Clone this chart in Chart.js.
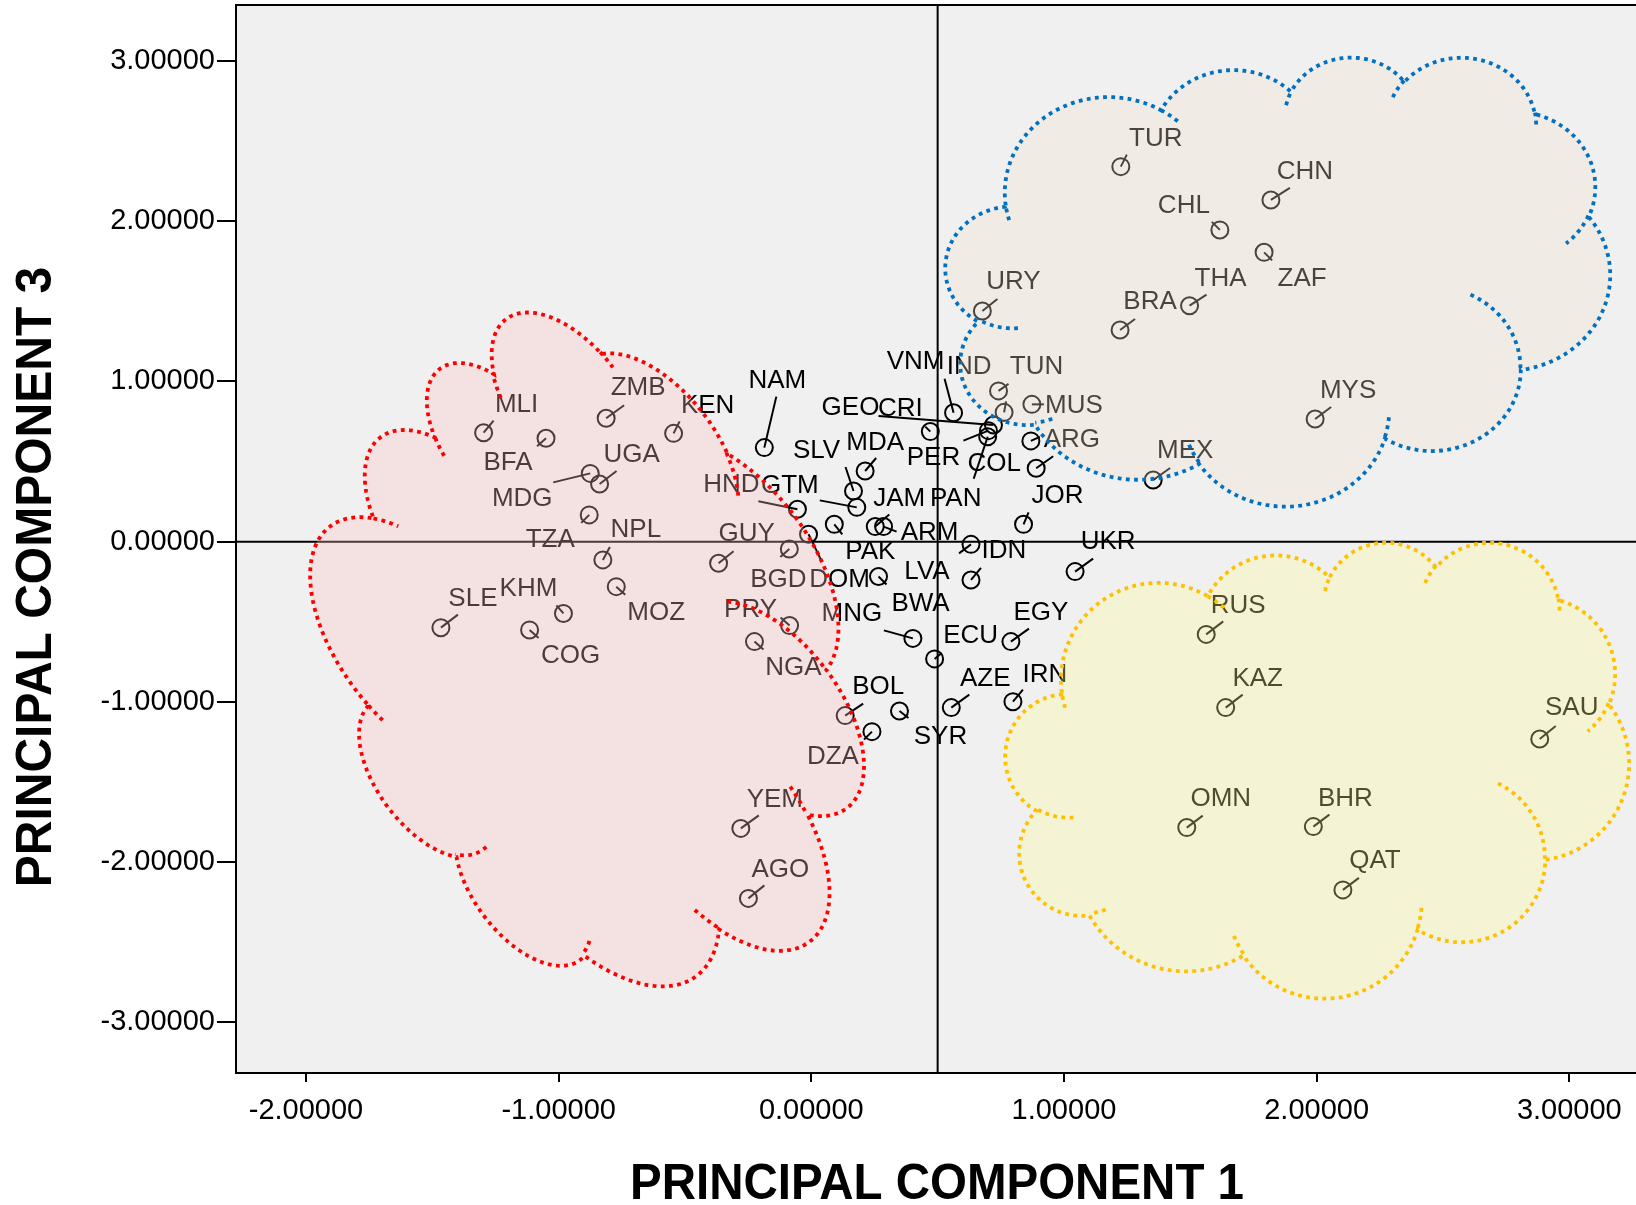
<!DOCTYPE html>
<html>
<head>
<meta charset="utf-8">
<title>Principal components 1 and 3</title>
<script src="https://cdn.jsdelivr.net/npm/chart.js@4/dist/chart.umd.min.js"></script>
<style>
  html, body { margin: 0; padding: 0; background: #ffffff; overflow: hidden; }
  #wrap { width: 1636px; height: 1205px; }
</style>
</head>
<body>
<div id="wrap"><canvas id="pca" width="1636" height="1205"></canvas></div>
<script>
// ---- data: country scores on principal components 1 and 3 ----
const countries = [
  'MLI','BFA','ZMB','KEN','MDG','UGA','TZA','NPL','GUY','MOZ','KHM','SLE','COG','PRY','NGA','BOL','DZA','YEM','AGO',
  'NAM','HND','GTM','SLV','MDA','PAK','JAM','ARM','DOM','BGD','BWA','LVA','IDN','UKR','MNG','ECU','EGY','SYR','AZE','IRN',
  'TUN','IND','VNM','MUS','CRI','GEO','PER','PAN','ARG','COL','JOR',
  'TUR','CHN','CHL','ZAF','THA','BRA','URY','MYS','MEX',
  'RUS','KAZ','SAU','OMN','BHR','QAT'
];
const pc1 = [
  -1.297,-1.050,-0.812,-0.545,-0.875,-0.838,-0.879,-0.825,-0.367,-0.772,-0.981,-1.466,-1.115,-0.086,-0.225,0.134,0.240,-0.279,-0.249,
  -0.186,-0.055,0.180,0.167,0.213,0.091,0.253,0.286,-0.011,-0.087,0.266,0.632,0.632,1.044,0.402,0.488,0.790,0.349,0.554,0.798,
  0.741,0.763,0.563,0.873,0.471,0.721,0.701,0.698,0.869,0.890,0.840,
  1.225,1.819,1.617,1.792,1.497,1.222,0.677,1.994,1.353,
  1.563,1.640,2.883,1.486,1.987,2.104
];
const pc3 = [
  0.680,0.645,0.770,0.676,0.426,0.360,0.167,-0.114,-0.135,-0.281,-0.448,-0.537,-0.551,-0.524,-0.624,-1.086,-1.186,-1.790,-2.227,
  0.587,0.202,0.214,0.316,0.441,0.108,0.094,0.094,0.046,-0.046,-0.218,-0.017,-0.239,-0.187,-0.604,-0.732,-0.624,-1.057,-1.036,-0.999,
  0.941,0.807,0.805,0.857,0.687,0.728,0.693,0.655,0.629,0.458,0.108,
  2.341,2.133,1.946,1.806,1.473,1.321,1.440,0.766,0.385,
  -0.579,-1.036,-1.232,-1.785,-1.779,-2.174
];
const xTickValues = [-2, -1, 0, 1, 2, 3];
const yTickValues = [-3, -2, -1, 0, 1, 2, 3];
const xTitle = 'PRINCIPAL COMPONENT 1';
const yTitle = 'PRINCIPAL COMPONENT 3';

// ---- layout: axis window, reference lines, label placement ----
const X_RANGE = [-2.277, 3.264];
const Y_RANGE = [-3.317, 3.350];
const REF_X = 0.5, REF_Y = 0;
const FONT = '"Liberation Sans", Arial, sans-serif';
const PLOT_BG = '#f0f0f0';

// label centre offset (dx, dy) and leader end (lx, ly), pixels from the marker
const labelLayout = {
  MLI:[33,-28,10,-12], BFA:[-38,25,-9,8], ZMB:[32,-30,18,-13], KEN:[34,-28,6,-12], MDG:[-68,25,-37,9],
  UGA:[32,-29,17,-13], TZA:[-39,25,-8,8], NPL:[33,-30,7,-13], GUY:[28,-29,15,-12], MOZ:[40,26,9,8],
  KHM:[-35,-25,-7,-8], SLE:[32,-29,17,-13], COG:[41,26,9,8], PRY:[-39,-16,-9,-8], NGA:[39,26,9,8],
  BOL:[33,-29,18,-12], DZA:[-39,25,-8,8], YEM:[34,-29,18,-13], AGO:[32,-29,16,-13],
  NAM:[13,-67,12,-51], HND:[-66,-24,-39,-8], GTM:[-67,-22,-37,-7], SLV:[-37,-40,-8,-24], MDA:[10,-28,11,-13],
  PAK:[36,27,8,10], JAM:[24,-28,14,-12], ARM:[46,6,13,5], DOM:[31,46,13,27], BGD:[-11,31,-9,8],
  BWA:[42,27,8,8], LVA:[-44,27,-12,9], IDN:[33,-29,10,-12], UKR:[33,-30,18,-13], MNG:[-61,-25,-29,-8],
  ECU:[36,-23,7,-6], EGY:[30,-29,18,-13], SYR:[41,26,9,7], AZE:[34,-29,18,-13], IRN:[32,-27,10,-12],
  TUN:[38,-24,10,-7], IND:[-35,-46,2,-11], VNM:[-38,-51,-9,-34], MUS:[42,1,12,0], CRI:[-30,-23,-5,-5],
  GEO:[-143,-17,-115,-9], PER:[-55,27,-25,10], PAN:[-32,62,-14,42], ARG:[41,-1,9,-4], COL:[-42,-4,17,-12],
  JOR:[34,-29,5,-12],
  TUR:[35,-28,6,-12], CHN:[34,-28,19,-12], CHL:[-36,-24,-8,-8], ZAF:[38,26,8,8], THA:[31,-27,17,-11],
  BRA:[30,-28,15,-11], URY:[31,-29,15,-12], MYS:[33,-28,16,-12], MEX:[32,-29,17,-12],
  RUS:[32,-29,17,-13], KAZ:[32,-29,17,-13], SAU:[32,-31,16,-13], OMN:[34,-29,16,-12], BHR:[32,-28,16,-12],
  QAT:[32,-29,16,-12]
};

// cluster outlines: cloud callouts anchored at a data-space centre (size in px, rotation in degrees)
const clusterClouds = [
  { center: [-0.835, -0.824], size: [500, 680], rotate: -37, fill: 'rgba(255,195,195,0.30)', stroke: '#ff0000' },
  { center: [ 1.846,  1.620], size: [665, 449], rotate: 0,   fill: 'rgba(245,225,210,0.30)', stroke: '#0070c0' },
  { center: [ 2.002, -1.430], size: [624, 456], rotate: 0,   fill: 'rgba(255,252,150,0.30)', stroke: '#ffc000' }
];

// ---- cloud glyph (43200 x 43200 design space): outer arcs and inner detail arcs ----
const CLOUD_START = [3900, 14370];
const CLOUD_ARCS = [
  [6753, 9190, -11429249, 7426832], [5333, 7267, -8646143, 5396714], [4365, 5945, -8748475, 5983381],
  [4857, 6595, -7859164, 7034504], [5333, 7273, -4722533, 6541615], [6775, 9220, -2776035, 7816140],
  [5785, 7867, 37501, 6842000], [6752, 9215, 1347096, 6910353], [7720, 10543, 3974558, 4542661],
  [4360, 5918, -16496525, 8804134], [4345, 5945, -14809710, 9151131]
];
const CLOUD_INNER = [
  [4693, 26177, 4345, 5945, 5204520, 1585770], [6928, 34899, 4360, 5918, 4416628, 686848],
  [16478, 39090, 6752, 9215, 8257449, 844866], [28827, 34751, 6752, 9215, 387196, 959901],
  [34129, 22954, 5785, 7867, -4217541, 4255042], [41798, 15354, 5333, 7273, 1819082, 1665090],
  [38324, 5426, 4857, 6595, -824660, 891534], [29078, 3952, 4857, 6595, -8950887, 1091722],
  [22141, 4720, 4365, 5945, -9809656, 1061181], [14000, 5192, 6753, 9190, -4002417, 739161],
  [4127, 15789, 6753, 9190, 9459261, 711490]
];

function sampleArc(x0, y0, wR, hR, st, sw, n) {
  const deg = Math.PI / 180 / 60000;
  const a1 = st * deg, a2 = (st + sw) * deg;
  const toParam = a => Math.atan2(wR * Math.sin(a), hR * Math.cos(a));
  const t1 = toParam(a1);
  let t2 = toParam(a2);
  if (sw > 0) { while (t2 < t1) t2 += 2 * Math.PI; }
  else { while (t2 > t1) t2 -= 2 * Math.PI; }
  const cx = x0 - wR * Math.cos(t1), cy = y0 - hR * Math.sin(t1);
  const pts = [];
  for (let i = 1; i <= n; i++) {
    const t = t1 + (t2 - t1) * i / n;
    pts.push([cx + wR * Math.cos(t), cy + hR * Math.sin(t)]);
  }
  return pts;
}

function buildCloud() {
  const outline = [CLOUD_START.slice()];
  let cur = CLOUD_START;
  for (const [wR, hR, st, sw] of CLOUD_ARCS) {
    const pts = sampleArc(cur[0], cur[1], wR, hR, st, sw, 60);
    outline.push(...pts);
    cur = pts[pts.length - 1];
  }
  const inner = CLOUD_INNER.map(([x, y, wR, hR, st, sw]) => [[x, y], ...sampleArc(x, y, wR, hR, st, sw, 24)]);
  let x0 = Infinity, y0 = Infinity, x1 = -Infinity, y1 = -Infinity;
  for (const [x, y] of outline) { x0 = Math.min(x0, x); x1 = Math.max(x1, x); y0 = Math.min(y0, y); y1 = Math.max(y1, y); }
  return { outline, inner, bbox: { x0, y0, x1, y1 } };
}
const cloudShape = buildCloud();

function drawCloud(ctx, cfg, xs, ys) {
  const cx = xs.getPixelForValue(cfg.center[0]);
  const cy = ys.getPixelForValue(cfg.center[1]);
  const [w, h] = cfg.size;
  const r = cfg.rotate * Math.PI / 180, c = Math.cos(r), s = Math.sin(r);
  const { x0, y0, x1, y1 } = cloudShape.bbox;
  const map = ([u, v]) => {
    const lx = ((u - x0) / (x1 - x0) - 0.5) * w;
    const ly = ((v - y0) / (y1 - y0) - 0.5) * h;
    return [cx + lx * c - ly * s, cy + lx * s + ly * c];
  };
  ctx.save();
  ctx.beginPath();
  cloudShape.outline.forEach((p, i) => { const [px, py] = map(p); i ? ctx.lineTo(px, py) : ctx.moveTo(px, py); });
  ctx.closePath();
  ctx.fillStyle = cfg.fill;
  ctx.fill();
  ctx.strokeStyle = cfg.stroke;
  ctx.lineWidth = 3.8;
  ctx.lineCap = 'butt';
  ctx.setLineDash([3.8, 4.4]);
  ctx.stroke();
  for (const arc of cloudShape.inner) {
    ctx.beginPath();
    arc.forEach((p, i) => { const [px, py] = map(p); i ? ctx.lineTo(px, py) : ctx.moveTo(px, py); });
    ctx.stroke();
  }
  ctx.restore();
}

const pcaDecor = {
  id: 'pcaDecor',
  beforeDraw(chart) {
    const { ctx, chartArea: a } = chart;
    ctx.save();
    ctx.fillStyle = PLOT_BG;
    ctx.fillRect(a.left, a.top, a.right - a.left, a.bottom - a.top);
    ctx.restore();
  },
  beforeDatasetsDraw(chart) {
    const { ctx, chartArea: a, scales: { x, y } } = chart;
    const vx = x.getPixelForValue(REF_X), hy = y.getPixelForValue(REF_Y);
    ctx.save();
    ctx.strokeStyle = '#000';
    ctx.lineWidth = 2;
    ctx.beginPath();
    ctx.moveTo(vx, a.top); ctx.lineTo(vx, a.bottom);
    ctx.moveTo(a.left, hy); ctx.lineTo(a.right, hy);
    ctx.stroke();
    ctx.restore();
  },
  afterDatasetsDraw(chart) {
    const { ctx, scales: { x, y } } = chart;
    const meta = chart.getDatasetMeta(0);
    ctx.save();
    ctx.strokeStyle = '#000';
    ctx.lineWidth = 2;
    ctx.fillStyle = '#000';
    ctx.font = '26px ' + FONT;
    ctx.textAlign = 'center';
    ctx.textBaseline = 'middle';
    meta.data.forEach((pt, i) => {
      const lay = labelLayout[countries[i]];
      if (!lay) return;
      const [dx, dy, lx, ly] = lay;
      ctx.beginPath();
      ctx.moveTo(pt.x, pt.y);
      ctx.lineTo(pt.x + lx, pt.y + ly);
      ctx.stroke();
      ctx.fillText(countries[i], pt.x + dx, pt.y + dy);
    });
    ctx.restore();
    clusterClouds.forEach(cfg => drawCloud(ctx, cfg, x, y));
  },
  afterDraw(chart) {
    const { ctx, chartArea: a } = chart;
    ctx.save();
    // top edge of the frame
    ctx.strokeStyle = '#000';
    ctx.lineWidth = 2;
    ctx.beginPath();
    ctx.moveTo(a.left - 1, a.top);
    ctx.lineTo(a.right, a.top);
    ctx.stroke();
    // axis titles
    ctx.fillStyle = '#000';
    ctx.font = 'bold 50px ' + FONT;
    ctx.textAlign = 'center';
    ctx.textBaseline = 'middle';
    ctx.save();
    ctx.translate((a.left + a.right) / 2 + 1, chart.height - 20);
    ctx.scale(0.95, 1);
    ctx.fillText(xTitle, 0, 0);
    ctx.restore();
    ctx.save();
    ctx.translate(37, 577);
    ctx.rotate(-Math.PI / 2);
    ctx.scale(0.96, 1);
    ctx.fillText(yTitle, 0, 0);
    ctx.restore();
    ctx.restore();
  }
};

new Chart(document.getElementById('pca'), {
  type: 'scatter',
  data: {
    datasets: [{
      label: 'countries',
      data: countries.map((c, i) => ({ x: pc1[i], y: pc3[i] })),
      pointStyle: 'circle',
      pointRadius: 8.5,
      pointHoverRadius: 8.5,
      borderWidth: 2,
      borderColor: '#000',
      backgroundColor: 'rgba(0,0,0,0)'
    }]
  },
  options: {
    responsive: false,
    animation: false,
    devicePixelRatio: 1,
    layout: { autoPadding: false, padding: { top: 5, right: 0, bottom: 0, left: 0 } },
    plugins: { legend: { display: false }, tooltip: { enabled: false } },
    events: [],
    scales: {
      x: {
        type: 'linear',
        min: X_RANGE[0], max: X_RANGE[1],
        afterBuildTicks: s => { s.ticks = xTickValues.map(v => ({ value: v })); },
        afterFit: s => { s.height = 132; s.paddingLeft = 0; s.paddingRight = 0; },
        ticks: {
          callback: v => Number(v).toFixed(5),
          font: { family: FONT, size: 29 }, color: '#000',
          padding: 12, maxRotation: 0, autoSkip: false
        },
        grid: { display: true, drawOnChartArea: false, drawTicks: true, tickLength: 9, color: '#000', lineWidth: 2 },
        border: { display: true, color: '#000', width: 2 }
      },
      y: {
        type: 'linear',
        min: Y_RANGE[0], max: Y_RANGE[1],
        afterBuildTicks: s => { s.ticks = yTickValues.map(v => ({ value: v })); },
        afterFit: s => { s.width = 236; s.paddingTop = 0; s.paddingBottom = 0; },
        ticks: {
          callback: v => Number(v).toFixed(5),
          font: { family: FONT, size: 29 }, color: '#000',
          padding: 2, autoSkip: false
        },
        grid: { display: true, drawOnChartArea: false, drawTicks: true, tickLength: 19, color: '#000', lineWidth: 2 },
        border: { display: true, color: '#000', width: 2 }
      }
    }
  },
  plugins: [pcaDecor]
});
</script>
</body>
</html>
